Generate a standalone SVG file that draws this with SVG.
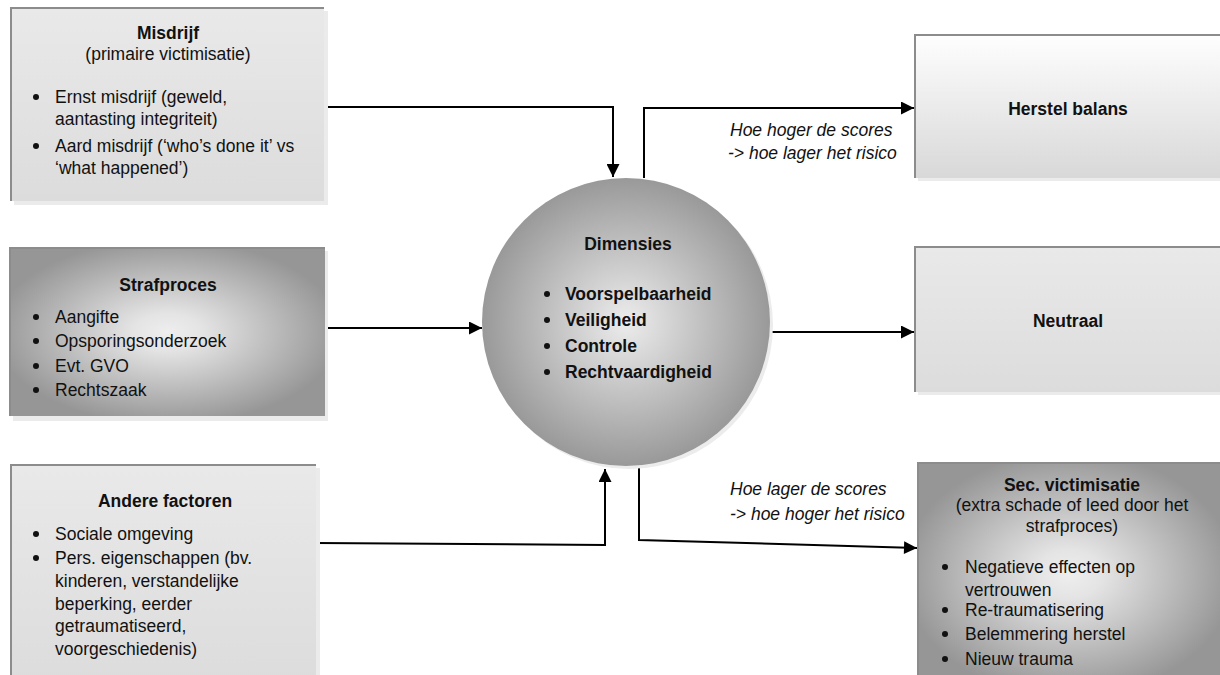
<svg xmlns="http://www.w3.org/2000/svg" width="1220" height="675" viewBox="0 0 1220 675">
<style>
text{font-family:"Liberation Sans",Arial,sans-serif;font-size:17.5px;fill:#111}
.b{font-weight:bold}
.c{text-anchor:middle}
.i{font-style:italic}
.sh{fill:#ebebeb}
.edge{stroke:#8c8c8c;stroke-width:2;fill:none}
.con{stroke:#000;stroke-width:2;fill:none}
.dot{fill:#111}
</style>
<defs>
<linearGradient id="gLight" x1="0" y1="0" x2="0" y2="1"><stop offset="0" stop-color="#e9e9e9"/><stop offset="1" stop-color="#dcdcdc"/></linearGradient>
<linearGradient id="gWhite" x1="0" y1="0" x2="0" y2="1"><stop offset="0" stop-color="#fefefe"/><stop offset="1" stop-color="#d8d8d8"/></linearGradient>
<radialGradient id="gDark" cx="0.5" cy="0.5" r="0.55"><stop offset="0" stop-color="#eeeeee"/><stop offset="0.2" stop-color="#e4e4e4"/><stop offset="1" stop-color="#969696"/></radialGradient>
<radialGradient id="gCircle" cx="0.5" cy="0.5" r="0.5"><stop offset="0" stop-color="#ececec"/><stop offset="0.25" stop-color="#d8d8d8"/><stop offset="1" stop-color="#999999"/></radialGradient>
<marker id="arr" markerUnits="userSpaceOnUse" viewBox="0 0 10 10" markerWidth="15" markerHeight="13" refX="10" refY="5" orient="auto"><path d="M0,0 L10,5 L0,10 z" fill="#000"/></marker>
</defs>

<g id="connectors">
<polyline class="con" points="325,107 613,107 613,177" marker-end="url(#arr)"/>
<polyline class="con" points="325,328 482,328" marker-end="url(#arr)"/>
<polyline class="con" points="316,543 605,545 605,469" marker-end="url(#arr)"/>
<polyline class="con" points="644,178 644,108 914,108" marker-end="url(#arr)"/>
<polyline class="con" points="768,332 914,332" marker-end="url(#arr)"/>
<polyline class="con" points="639,463 639,540 917,548" marker-end="url(#arr)"/>
<text class="i" x="730" y="136">Hoe hoger de scores</text>
<text class="i" x="728" y="159">-&gt; hoe lager het risico</text>
<text class="i" x="730" y="495">Hoe lager de scores</text>
<text class="i" x="730" y="520">-&gt; hoe hoger het risico</text>
</g>

<g id="misdrijf">
<rect class="sh" x="14" y="11" width="314" height="194"/>
<rect x="11" y="8" width="313" height="193" fill="url(#gLight)"/>
<polyline class="edge" points="11,201 11,8 324,8"/>
<text class="b c" x="168" y="39">Misdrijf</text>
<text class="c" x="168" y="60">(primaire victimisatie)</text>
<circle class="dot" cx="36" cy="97" r="3"/>
<text x="55" y="103">Ernst misdrijf (geweld,</text>
<text x="55" y="125">aantasting integriteit)</text>
<circle class="dot" cx="36" cy="146" r="3"/>
<text x="55" y="152">Aard misdrijf (‘who’s done it’ vs</text>
<text x="55" y="174">‘what happened’)</text>
</g>

<g id="strafproces">
<rect class="sh" x="13" y="251" width="315" height="170"/>
<rect x="10" y="248" width="315" height="168" fill="url(#gDark)"/>
<polyline class="edge" points="10,416 10,248 325,248" stroke="#888"/>
<text class="b c" x="168" y="291">Strafproces</text>
<circle class="dot" cx="36" cy="317" r="3"/>
<text x="55" y="323">Aangifte</text>
<circle class="dot" cx="36" cy="341" r="3"/>
<text x="55" y="347">Opsporingsonderzoek</text>
<circle class="dot" cx="36" cy="366" r="3"/>
<text x="55" y="372">Evt. GVO</text>
<circle class="dot" cx="36" cy="390" r="3"/>
<text x="55" y="396">Rechtszaak</text>
</g>

<g id="andere">
<rect class="sh" x="14" y="468" width="306" height="220"/>
<rect x="11" y="465" width="305" height="220" fill="url(#gLight)"/>
<polyline class="edge" points="11,685 11,465 316,465"/>
<text class="b c" x="165" y="507">Andere factoren</text>
<circle class="dot" cx="36" cy="534" r="3"/>
<text x="55" y="540">Sociale omgeving</text>
<circle class="dot" cx="36" cy="558" r="3"/>
<text x="55" y="564">Pers. eigenschappen (bv.</text>
<text x="55" y="587">kinderen, verstandelijke</text>
<text x="55" y="610">beperking, eerder</text>
<text x="55" y="632">getraumatiseerd,</text>
<text x="55" y="655">voorgeschiedenis)</text>
</g>

<g id="dimensies">
<circle cx="629" cy="325" r="144" fill="#ececec"/>
<circle cx="626" cy="322" r="144" fill="url(#gCircle)"/>
<text class="b c" x="628" y="250">Dimensies</text>
<circle class="dot" cx="547" cy="294" r="3"/>
<text class="b" x="565" y="300">Voorspelbaarheid</text>
<circle class="dot" cx="547" cy="320" r="3"/>
<text class="b" x="565" y="326">Veiligheid</text>
<circle class="dot" cx="547" cy="346" r="3"/>
<text class="b" x="565" y="352">Controle</text>
<circle class="dot" cx="547" cy="372" r="3"/>
<text class="b" x="565" y="378">Rechtvaardigheid</text>
</g>

<g id="herstel">
<rect class="sh" x="918" y="38" width="302" height="143"/>
<rect x="915" y="35" width="305" height="143" fill="url(#gWhite)"/>
<polyline class="edge" points="915,178 915,35 1220,35"/>
<text class="b c" x="1068" y="115">Herstel balans</text>
</g>

<g id="neutraal">
<rect class="sh" x="918" y="250" width="302" height="145"/>
<rect x="915" y="247" width="305" height="145" fill="url(#gLight)"/>
<polyline class="edge" points="915,392 915,247 1220,247"/>
<text class="b c" x="1068" y="327">Neutraal</text>
</g>

<g id="secvictimisatie">
<rect x="918" y="463" width="302" height="222" fill="url(#gDark)"/>
<polyline class="edge" points="918,685 918,463 1220,463" stroke="#888"/>
<text class="b c" x="1072" y="491">Sec. victimisatie</text>
<text class="c" x="1072" y="511">(extra schade of leed door het</text>
<text class="c" x="1072" y="532">strafproces)</text>
<circle class="dot" cx="945" cy="567" r="3"/>
<text x="965" y="573">Negatieve effecten op</text>
<text x="965" y="596">vertrouwen</text>
<circle class="dot" cx="945" cy="610" r="3"/>
<text x="965" y="616">Re-traumatisering</text>
<circle class="dot" cx="945" cy="634" r="3"/>
<text x="965" y="640">Belemmering herstel</text>
<circle class="dot" cx="945" cy="659" r="3"/>
<text x="965" y="665">Nieuw trauma</text>
</g>
</svg>
